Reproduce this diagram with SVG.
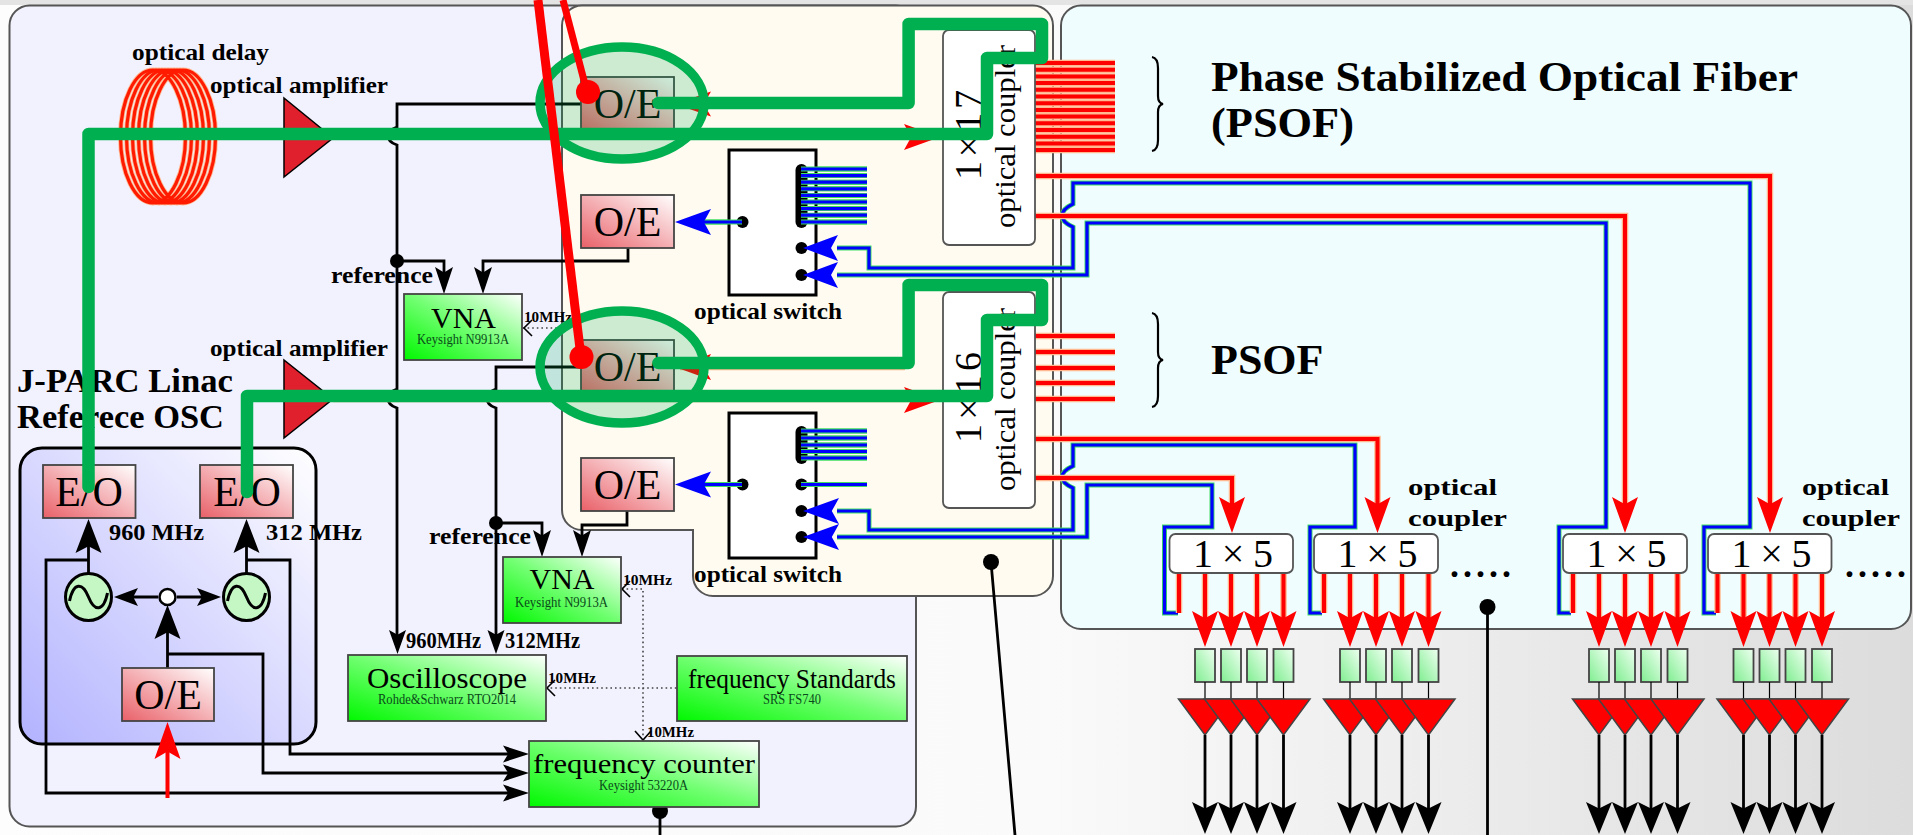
<svg xmlns="http://www.w3.org/2000/svg" width="1913" height="835" viewBox="0 0 1913 835">
<style>
text{font-family:"Liberation Serif","Times New Roman",serif;fill:#000}
.b{font-weight:bold}
.lab{font-weight:bold;font-size:24px}
.sm{font-weight:bold;font-size:15px}
.oe{font-size:42px}
.sub{font-size:15px;fill:#0a4a1a}
.panel{stroke:#555;stroke-width:2}
.k{fill:none;stroke:#000;stroke-width:2.8}
.kt{fill:none;stroke:#000;stroke-width:1.2}
.dot{fill:none;stroke:#444;stroke-width:1.6;stroke-dasharray:1.6 3}
.open{fill:none;stroke:#000;stroke-width:1.6}
.box{stroke:#444;stroke-width:1.8}
.fh{fill:none;stroke:#ffb890;stroke-width:6.5}
.fr{fill:none;stroke:#f00;stroke-width:4}
.fg{fill:none;stroke:#3fe060;stroke-width:5}
.fb{fill:none;stroke:#00f;stroke-width:3.2}
.amp{fill:#e0202c;stroke:#000;stroke-width:1.5}
.amp2{fill:#f00;stroke:#444;stroke-width:1.5}
.gl{fill:none;stroke:#00b050;stroke-width:12.5;stroke-linejoin:round;stroke-linecap:round}
.ell{fill:#00b050;fill-opacity:.2;stroke:#00b050;stroke-width:9.5}
.coup{fill:#fff;stroke:#555;stroke-width:1.8}
</style>
<defs>
<linearGradient id="bg" x1="0" y1="0" x2="1" y2="0"><stop offset="0" stop-color="#fdfdfd"/><stop offset=".55" stop-color="#fafafa"/><stop offset="1" stop-color="#dcdcdc"/></linearGradient>
<linearGradient id="gr" x1="0" y1="1" x2="1" y2="0"><stop offset="0" stop-color="#e96068"/><stop offset="1" stop-color="#fff"/></linearGradient>
<linearGradient id="gg" x1="0" y1="1" x2="1" y2="0"><stop offset="0" stop-color="#00f800"/><stop offset=".5" stop-color="#70ff70"/><stop offset="1" stop-color="#fff"/></linearGradient>
<linearGradient id="gl" x1="0" y1="1" x2="1" y2="0"><stop offset="0" stop-color="#b2b2ff"/><stop offset="1" stop-color="#fff"/></linearGradient>
<linearGradient id="gs" x1="0" y1="1" x2="1" y2="0"><stop offset="0" stop-color="#7fee90"/><stop offset="1" stop-color="#eefff0"/></linearGradient>
<path id="ah" d="M0 0L-1 -.5L-.8 0L-1 .5Z"/>
<path id="tilde" d="M-19 4C-15 -15 -6 -15 0 0C6 15 15 15 19 -4"/>
<path id="b1" d="M837 248H869V268H1073V227Q1062 222 1062 216Q1062 209 1073 204V183H1750V527H1704V613H1716"/>
<path id="b2" d="M837 275H1087V223H1606V527H1559V613H1571"/>
<path id="b3" d="M837 511H869V530H1073V488Q1062 483 1062 477Q1062 471 1073 466V445H1355V527H1310V613H1322"/>
<path id="b4" d="M837 537H1087V485H1212V527H1164.5V613H1178"/>
<path id="b5" d="M801 169H867M801 175.6H867M801 182.2H867M801 188.8H867M801 195.4H867M801 202H867M801 208.6H867M801 215.2H867M801 222H867M742 222H700"/>
<path id="b6" d="M801 431H867M801 438H867M801 445H867M801 451.5H867M801 458H867M801 484.5H867M742 484.5H700"/>
<path id="r1" d="M1035 176H1770V510M1035 216H1625V510"/>
<path id="r2" d="M1035 439H1377.5V510M1035 478H1232V510"/>
<path id="r3" d="M1035 63H1115M1035 69.7H1115M1035 76.4H1115M1035 83.1H1115M1035 89.8H1115M1035 96.5H1115M1035 103.2H1115M1035 109.9H1115M1035 116.6H1115M1035 123.3H1115M1035 130H1115M1035 136.7H1115M1035 143.4H1115M1035 150H1115"/>
<path id="r4" d="M1035 336H1115M1035 352H1115M1035 368H1115M1035 383H1115M1035 399H1115"/>
<path id="r5" d="M333 134H910M333 399H910M680 104H905M680 367H905"/>
<g id="chain">
<path class="fh" d="M10 573V613M36 573V625M62 573V625M88 573V625M114.5 573V625"/>
<path class="fr" d="M10 573V613M36 573V625M62 573V625M88 573V625M114.5 573V625"/>
<g fill="#f00">
<use href="#ah" transform="translate(36 647) rotate(90) scale(36 26)"/>
<use href="#ah" transform="translate(62 647) rotate(90) scale(36 26)"/>
<use href="#ah" transform="translate(88 647) rotate(90) scale(36 26)"/>
<use href="#ah" transform="translate(114.5 647) rotate(90) scale(36 26)"/>
</g>
<g class="box" fill="url(#gs)">
<rect x="26" y="649" width="20" height="33"/><rect x="52" y="649" width="20" height="33"/><rect x="78" y="649" width="20" height="33"/><rect x="104.5" y="649" width="20" height="33"/>
</g>
<path class="kt" d="M36 682V699M62 682V699M88 682V699M114.5 682V699"/>
<path class="amp2" d="M9.5 699H62.5L36 735Z"/>
<path class="amp2" d="M35.5 699H88.5L62 735Z"/>
<path class="amp2" d="M61.5 699H114.5L88 735Z"/>
<path class="amp2" d="M88 699H141L114.5 735Z"/>
<path class="k" d="M36 735V815M62 735V815M88 735V815M114.5 735V815"/>
<use href="#ah" transform="translate(36 834) rotate(90) scale(32 26)"/>
<use href="#ah" transform="translate(62 834) rotate(90) scale(32 26)"/>
<use href="#ah" transform="translate(88 834) rotate(90) scale(32 26)"/>
<use href="#ah" transform="translate(114.5 834) rotate(90) scale(32 26)"/>
</g>
</defs>

<rect id="background" width="1913" height="835" fill="url(#bg)"/>
<rect width="1913" height="5" fill="#e4e4e4"/>
<g id="panel-timing"><rect class="panel" x="9.5" y="5.5" width="906.5" height="821" rx="20" fill="#f2f2ff"/></g>
<g id="panel-optical"><path class="panel" fill="#fffbf0" d="M582 5.5H1033a20 20 0 0 1 20 20V576a20 20 0 0 1-20 20H713a20 20 0 0 1-20-20V530H582a20 20 0 0 1-20-20V25.5a20 20 0 0 1 20-20Z"/></g>
<g id="panel-fiber"><rect class="panel" x="1061" y="5.5" width="850" height="623.5" rx="20" fill="#f0fdff"/></g>
<g id="panel-osc"><rect x="20" y="448" width="296" height="296" rx="22" fill="url(#gl)" stroke="#000" stroke-width="3"/></g>

<g id="connectors">
<path class="k" d="M582 104H397V127Q388 130 388 136Q388 142 397 145V389Q388 392 388 399Q388 405 397 408V640"/>
<path class="k" d="M582 367H496V389Q487 392 487 399Q487 405 496 408V640"/>
<circle cx="397" cy="261" r="7"/><circle cx="496" cy="523" r="7"/>
<path class="k" d="M397 261H444V280M628 248V261H483V280"/>
<path class="k" d="M496 523H542V545M627 511V525H582V545"/>
<use href="#ah" transform="translate(444 294) rotate(90) scale(27 18)"/>
<use href="#ah" transform="translate(483 294) rotate(90) scale(27 18)"/>
<use href="#ah" transform="translate(542 557) rotate(90) scale(27 18)"/>
<use href="#ah" transform="translate(582 557) rotate(90) scale(27 18)"/>
<use href="#ah" transform="translate(397.5 654) rotate(90) scale(24 17)"/>
<use href="#ah" transform="translate(496 654) rotate(90) scale(24 17)"/>
<path class="k" d="M88.5 574V540M246.5 574V540M167.5 668V625M125 597H158M177 597H210"/>
<path class="k" d="M88.5 560H46V793H515M246.5 560H290V754H515M167.5 654H263V773H515"/>
<use href="#ah" transform="translate(88.5 519) rotate(-90) scale(34 26)"/>
<use href="#ah" transform="translate(246.5 519) rotate(-90) scale(34 26)"/>
<use href="#ah" transform="translate(167.5 605) rotate(-90) scale(34 26)"/>
<use href="#ah" transform="translate(114 597) rotate(180) scale(24 18)"/>
<use href="#ah" transform="translate(221 597) scale(24 18)"/>
<use href="#ah" transform="translate(529 793) scale(26 17)"/>
<use href="#ah" transform="translate(529 754) scale(26 17)"/>
<use href="#ah" transform="translate(529 773) scale(26 17)"/>
<path class="fr" d="M167.5 798V745" stroke-width="3"/>
<use href="#ah" transform="translate(167.5 722) rotate(-90) scale(37 26)" fill="#f00"/>
<path class="dot" d="M523 328H561M622 589H643V738M546 688H677"/>
<path class="open" d="M532 320L524 328L532 336M630 581L622 589L630 597M635 731L643 740L651 731M555 680L547 688L555 696"/>
<path class="k" d="M660 811V835M991 562L1015 835M1487.5 607V835"/>
<circle cx="660" cy="811" r="8"/><circle cx="991" cy="562" r="8"/><ellipse cx="1487.5" cy="607" rx="8" ry="8"/>
<use href="#r3" class="fh"/><use href="#r4" class="fh"/><use href="#r3" class="fr"/><use href="#r4" class="fr"/>
<use href="#r5" class="fh"/><use href="#r5" class="fr"/>
<use href="#b1" class="fg"/><use href="#b2" class="fg"/><use href="#b3" class="fg"/><use href="#b4" class="fg"/>
<use href="#b5" class="fg"/><use href="#b6" class="fg"/>
<use href="#b1" class="fb"/><use href="#b2" class="fb"/><use href="#b3" class="fb"/><use href="#b4" class="fb"/>
<use href="#b5" class="fb"/><use href="#b6" class="fb"/>
<use href="#r1" class="fh"/><use href="#r2" class="fh"/><use href="#r1" class="fr"/><use href="#r2" class="fr"/>
<g fill="#f00">
<use href="#ah" transform="translate(1770 533) rotate(90) scale(36 26)"/>
<use href="#ah" transform="translate(1625 533) rotate(90) scale(36 26)"/>
<use href="#ah" transform="translate(1377.5 533) rotate(90) scale(36 26)"/>
<use href="#ah" transform="translate(1232 533) rotate(90) scale(36 26)"/>
<use href="#ah" transform="translate(675 104) rotate(180) scale(36 25)"/>
<use href="#ah" transform="translate(675 367) rotate(180) scale(36 26)"/>
<use href="#ah" transform="translate(940 137) scale(36 26)"/>
<use href="#ah" transform="translate(940 400) scale(36 26)"/>
</g>
</g>

<g id="optical-delay" fill="none">
<g stroke="#ffb890" stroke-width="5"><ellipse cx="153" cy="136.5" rx="32.5" ry="66.5"/><ellipse cx="159" cy="136.5" rx="32.5" ry="66.5"/><ellipse cx="165" cy="136.5" rx="32.5" ry="66.5"/><ellipse cx="171" cy="136.5" rx="32.5" ry="66.5"/><ellipse cx="177" cy="136.5" rx="32.5" ry="66.5"/><ellipse cx="183" cy="136.5" rx="32.5" ry="66.5"/></g>
<g stroke="#ff1a00" stroke-width="3.2"><ellipse cx="153" cy="136.5" rx="32.5" ry="66.5"/><ellipse cx="159" cy="136.5" rx="32.5" ry="66.5"/><ellipse cx="165" cy="136.5" rx="32.5" ry="66.5"/><ellipse cx="171" cy="136.5" rx="32.5" ry="66.5"/><ellipse cx="177" cy="136.5" rx="32.5" ry="66.5"/><ellipse cx="183" cy="136.5" rx="32.5" ry="66.5"/></g>
</g>
<text class="lab" x="132" y="60" textLength="137" lengthAdjust="spacingAndGlyphs">optical delay</text>
<g id="amp1"><path class="amp" d="M284 98V177L333 138Z"/><text class="lab" x="210" y="93" textLength="178" lengthAdjust="spacingAndGlyphs">optical amplifier</text></g>
<g id="amp2"><path class="amp" d="M284 360V438L333 399Z"/><text class="lab" x="210" y="356" textLength="178" lengthAdjust="spacingAndGlyphs">optical amplifier</text></g>
<g id="labels-left">
<text class="b" font-size="34" x="17" y="392" textLength="216" lengthAdjust="spacingAndGlyphs">J-PARC Linac</text>
<text class="b" font-size="34" x="17" y="428" textLength="207" lengthAdjust="spacingAndGlyphs">Referece OSC</text>
<text class="lab" x="109" y="540" textLength="95" lengthAdjust="spacingAndGlyphs">960 MHz</text>
<text class="lab" x="266" y="540" textLength="96" lengthAdjust="spacingAndGlyphs">312 MHz</text>
<text class="lab" x="331" y="283" textLength="102" lengthAdjust="spacingAndGlyphs">reference</text>
<text class="lab" x="429" y="544" textLength="102" lengthAdjust="spacingAndGlyphs">reference</text>
<text class="lab" x="406" y="648" textLength="75" lengthAdjust="spacingAndGlyphs">960MHz</text>
<text class="lab" x="505" y="648" textLength="75" lengthAdjust="spacingAndGlyphs">312MHz</text>
<text class="sm" x="524" y="322" textLength="48" lengthAdjust="spacingAndGlyphs">10MHz</text>
<text class="sm" x="623" y="585" textLength="49" lengthAdjust="spacingAndGlyphs">10MHz</text>
<text class="sm" x="548" y="683" textLength="48" lengthAdjust="spacingAndGlyphs">10MHz</text>
<text class="sm" x="647" y="737" textLength="47" lengthAdjust="spacingAndGlyphs">10MHz</text>
</g>
<g id="eo-960"><rect class="box" x="43" y="465" width="92.5" height="53" fill="url(#gr)"/><text class="oe" x="89" y="506" text-anchor="middle">E/O</text></g>
<g id="eo-312"><rect class="box" x="200" y="465" width="93" height="53" fill="url(#gr)"/><text class="oe" x="247" y="506" text-anchor="middle">E/O</text></g>
<g id="oe-ref"><rect class="box" x="122" y="668" width="92" height="53" fill="url(#gr)"/><text class="oe" x="168" y="709" text-anchor="middle">O/E</text></g>
<g id="osc-960"><ellipse cx="88.5" cy="597" rx="23" ry="23.5" fill="#c4f7c4" stroke="#000" stroke-width="3"/><use href="#tilde" transform="translate(88.5 597)" fill="none" stroke="#000" stroke-width="3"/></g>
<g id="osc-312"><ellipse cx="246.5" cy="597" rx="23" ry="23.5" fill="#c4f7c4" stroke="#000" stroke-width="3"/><use href="#tilde" transform="translate(246.5 597)" fill="none" stroke="#000" stroke-width="3"/></g>
<g id="splitter"><circle cx="167.5" cy="597" r="8" fill="#fff" stroke="#000" stroke-width="2.5"/></g>
<g id="vna-1"><rect class="box" x="404" y="294" width="118" height="66" fill="url(#gg)"/><text font-size="30" x="463.5" y="328" text-anchor="middle">VNA</text><text class="sub" x="417" y="344" textLength="92" lengthAdjust="spacingAndGlyphs">Keysight N9913A</text></g>
<g id="vna-2"><rect class="box" x="503" y="557" width="118" height="66" fill="url(#gg)"/><text font-size="30" x="562" y="589" text-anchor="middle">VNA</text><text class="sub" x="515" y="607" textLength="93" lengthAdjust="spacingAndGlyphs">Keysight N9913A</text></g>
<g id="oscilloscope"><rect class="box" x="348" y="655" width="198" height="66" fill="url(#gg)"/><text font-size="29" x="367" y="688" textLength="160" lengthAdjust="spacingAndGlyphs">Oscilloscope</text><text class="sub" x="378" y="704" textLength="138" lengthAdjust="spacingAndGlyphs">Rohde&amp;Schwarz RTO2014</text></g>
<g id="frequency-standards"><rect class="box" x="677" y="656" width="230" height="65" fill="url(#gg)"/><text font-size="27" x="688" y="688" textLength="208" lengthAdjust="spacingAndGlyphs">frequency Standards</text><text class="sub" x="763" y="704" textLength="58" lengthAdjust="spacingAndGlyphs">SRS FS740</text></g>
<g id="frequency-counter"><rect class="box" x="529" y="741" width="230" height="66" fill="url(#gg)"/><text font-size="28" x="533" y="773" textLength="222" lengthAdjust="spacingAndGlyphs">frequency counter</text><text class="sub" x="599" y="790" textLength="89" lengthAdjust="spacingAndGlyphs">Keysight 53220A</text></g>

<g id="oe-1"><rect class="box" x="581" y="77" width="93" height="53" fill="url(#gr)"/><text class="oe" x="627.5" y="118" text-anchor="middle">O/E</text></g>
<g id="oe-2"><rect class="box" x="581" y="195" width="93" height="53" fill="url(#gr)"/><text class="oe" x="627.5" y="236" text-anchor="middle">O/E</text></g>
<g id="oe-3"><rect class="box" x="581" y="340" width="93" height="53" fill="url(#gr)"/><text class="oe" x="627.5" y="381" text-anchor="middle">O/E</text></g>
<g id="oe-4"><rect class="box" x="581" y="458" width="93" height="53" fill="url(#gr)"/><text class="oe" x="627.5" y="499" text-anchor="middle">O/E</text></g>

<g id="switch-1">
<rect x="729" y="150" width="87" height="145" fill="#fff" stroke="#000" stroke-width="3"/>
<circle cx="742.5" cy="222" r="6"/><rect x="795.5" y="164" width="12" height="64" rx="6"/><circle cx="801.5" cy="248" r="6"/><circle cx="801.5" cy="275" r="6"/>
<use href="#b5" class="fg"/><use href="#b5" class="fb"/>
<g fill="#00f"><use href="#ah" transform="translate(675 222) rotate(180) scale(36 26)"/><use href="#ah" transform="translate(803 248) rotate(180) scale(35 26)"/><use href="#ah" transform="translate(803 275) rotate(180) scale(35 26)"/></g>
<text class="lab" x="694" y="319" textLength="148" lengthAdjust="spacingAndGlyphs">optical switch</text>
</g>
<g id="switch-2">
<rect x="729" y="413" width="87" height="145" fill="#fff" stroke="#000" stroke-width="3"/>
<circle cx="742.5" cy="484.5" r="6"/><rect x="795.5" y="426" width="12" height="38" rx="6"/><circle cx="801.5" cy="484.5" r="6"/><circle cx="801.5" cy="511" r="6"/><circle cx="801.5" cy="537" r="6"/>
<use href="#b6" class="fg"/><use href="#b6" class="fb"/>
<g fill="#00f"><use href="#ah" transform="translate(675 484.5) rotate(180) scale(36 26)"/><use href="#ah" transform="translate(803 511) rotate(180) scale(36 26)"/><use href="#ah" transform="translate(803 537) rotate(180) scale(36 26)"/></g>
<text class="lab" x="694" y="582" textLength="148" lengthAdjust="spacingAndGlyphs">optical switch</text>
</g>

<g id="coupler-17"><rect class="coup" x="943" y="30" width="92" height="215" rx="6"/>
<text font-size="38" transform="translate(981 180) rotate(-90)" textLength="90">1×17</text>
<text font-size="29" transform="translate(1015 228) rotate(-90)" textLength="183" lengthAdjust="spacingAndGlyphs">optical coupler</text></g>
<g id="coupler-16"><rect class="coup" x="943" y="292" width="92" height="216" rx="6"/>
<text font-size="38" transform="translate(981 443) rotate(-90)" textLength="91">1×16</text>
<text font-size="29" transform="translate(1015 491) rotate(-90)" textLength="183" lengthAdjust="spacingAndGlyphs">optical coupler</text></g>

<g id="psof-labels">
<path fill="none" stroke="#000" stroke-width="2.2" d="M1152 57Q1158 58 1158 68V96Q1158 103 1163 104Q1158 105 1158 112V140Q1158 150 1152 151M1152 313Q1158 314 1158 324V352Q1158 359 1163 360Q1158 361 1158 368V396Q1158 406 1152 407"/>
<text class="b" font-size="43" x="1211" y="91" textLength="587" lengthAdjust="spacingAndGlyphs">Phase Stabilized Optical Fiber</text>
<text class="b" font-size="43" x="1211" y="137" textLength="143" lengthAdjust="spacingAndGlyphs">(PSOF)</text>
<text class="b" font-size="43" x="1211" y="374" textLength="112.5" lengthAdjust="spacingAndGlyphs">PSOF</text>
<text class="lab" font-size="25" x="1408" y="495" textLength="89" lengthAdjust="spacingAndGlyphs">optical</text>
<text class="lab" font-size="25" x="1408" y="526" textLength="99" lengthAdjust="spacingAndGlyphs">coupler</text>
<text class="lab" font-size="25" x="1802" y="495" textLength="87" lengthAdjust="spacingAndGlyphs">optical</text>
<text class="lab" font-size="25" x="1802" y="526" textLength="98" lengthAdjust="spacingAndGlyphs">coupler</text>
<text class="b" font-size="36" x="1450" y="577" textLength="61">.....</text>
<text class="b" font-size="36" x="1845" y="577" textLength="61">.....</text>
</g>

<g id="branch-1"><use href="#chain" transform="translate(1169 0)"/><rect class="coup" x="1169.5" y="534" width="123.5" height="39" rx="6"/><text font-size="40" x="1193" y="567" textLength="80">1×5</text></g>
<g id="branch-2"><use href="#chain" transform="translate(1314 0)"/><rect class="coup" x="1314" y="534" width="124" height="39" rx="6"/><text font-size="40" x="1337.5" y="567" textLength="80">1×5</text></g>
<g id="branch-3"><use href="#chain" transform="translate(1563 0)"/><rect class="coup" x="1563" y="534" width="124" height="39" rx="6"/><text font-size="40" x="1586.5" y="567" textLength="80">1×5</text></g>
<g id="branch-4"><use href="#chain" transform="translate(1707.5 0)"/><rect class="coup" x="1708" y="534" width="123.5" height="39" rx="6"/><text font-size="40" x="1731.5" y="567" textLength="80">1×5</text></g>

<g id="overlay-connectors">
<ellipse class="ell" cx="622" cy="103" rx="82" ry="56"/>
<ellipse class="ell" cx="622" cy="367" rx="82" ry="56"/>
<path class="gl" d="M88.5 487V134H987V58H1042V24H908.6V103H658.5"/>
<path class="gl" d="M247 492V396H987V320H1042V285H908.6V363H658.5"/>
<path fill="none" stroke="#f00" stroke-width="9" d="M538 0L581 357"/>
<path fill="none" stroke="#f00" stroke-width="7" d="M563 0L587 92"/>
<circle cx="581.5" cy="357" r="12" fill="#f00"/>
<circle cx="588" cy="92" r="12" fill="#f00"/>
</g>
</svg>
